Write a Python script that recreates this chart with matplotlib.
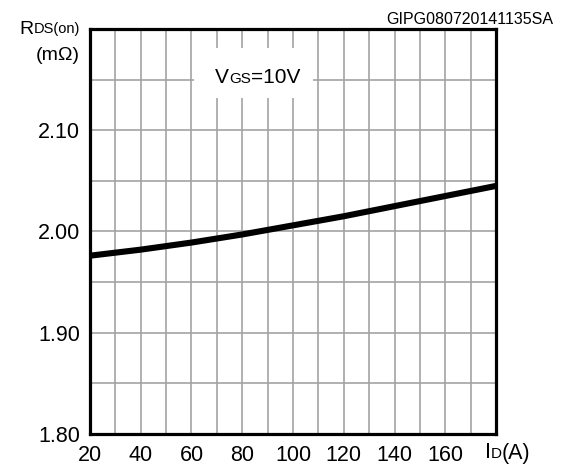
import numpy as np
import matplotlib.pyplot as plt
from matplotlib.patches import Rectangle
from matplotlib.offsetbox import TextArea, HPacker, AnnotationBbox

plt.rcParams['font.family'] = ['Liberation Sans', 'DejaVu Sans']

# drain current (A) and on-resistance (mOhm)
i_d = [20, 40, 60, 80, 100, 120, 140, 160, 180]
r_ds = [1.976, 1.982, 1.989, 1.997, 2.006, 2.015, 2.025, 2.035, 2.045]

x_ticks = [20, 40, 60, 80, 100, 120, 140, 160]
y_ticks = [1.80, 1.90, 2.00, 2.10]


def mixed(parts, xy, coords, align):
    # text with small "subscript" letters sitting on the baseline
    boxes = [TextArea(s, textprops=dict(fontsize=fs)) for s, fs in parts]
    pack = HPacker(children=boxes, align='baseline', pad=0, sep=0)
    ab = AnnotationBbox(pack, xy, xycoords=coords, box_alignment=align,
                        frameon=False, pad=0, annotation_clip=False)
    ab.set_zorder(6)
    return ab


fig = plt.figure(figsize=(5.69, 4.68), dpi=100)
ax = fig.add_axes([0.158, 0.073, 0.714, 0.865])

ax.set_xlim(20, 180)
ax.set_ylim(1.80, 2.20)
for x in np.arange(30, 180, 10):
    ax.axvline(x, color='#a3a3a3', lw=1.2, zorder=1)
for y in np.arange(1.85, 2.20, 0.05):
    ax.axhline(y, color='#a3a3a3', lw=1.2, zorder=1)

# white box behind the V_GS label
ax.add_patch(Rectangle((61, 2.132), 47, 0.049, facecolor='white',
                       edgecolor='none', zorder=2))
ax.add_artist(mixed([('V', 15), ('GS', 11), ('=10V', 15)], (86, 2.152),
                    'data', (0.5, 0.5)))

ax.plot(i_d, r_ds, color='black', lw=4.4, solid_capstyle='butt', zorder=4)

ax.set_xticks(x_ticks)
ax.set_xticklabels([str(v) for v in x_ticks])
ax.set_yticks(y_ticks)
ax.set_yticklabels([f'{v:.2f}' for v in y_ticks])
ax.tick_params(axis='y', length=0, labelsize=15.5, pad=7)
ax.tick_params(axis='x', length=0, labelsize=15.5, pad=8)
for s in ax.spines.values():
    s.set_linewidth(2.3)
    s.set_zorder(5)

fig.add_artist(mixed([('I', 15.5), ('D', 11), ('(A)', 15.5)], (485 / 569, 1 - 453 / 468),
                     'figure fraction', (0, 0.5)))
fig.add_artist(mixed([('R', 14), ('DS(on)', 10.5)], (80 / 569, 1 - 29 / 468),
                     'figure fraction', (1, 0.5)))
fig.text(80 / 569, 1 - 55 / 468, '(m\u03a9)', ha='right', va='center', fontsize=14)
fig.text(553 / 569, 1 - 24 / 468, 'GIPG080720141135SA', ha='right', va='baseline',
         fontsize=11.5)

fig.savefig('out.png', dpi=100)
